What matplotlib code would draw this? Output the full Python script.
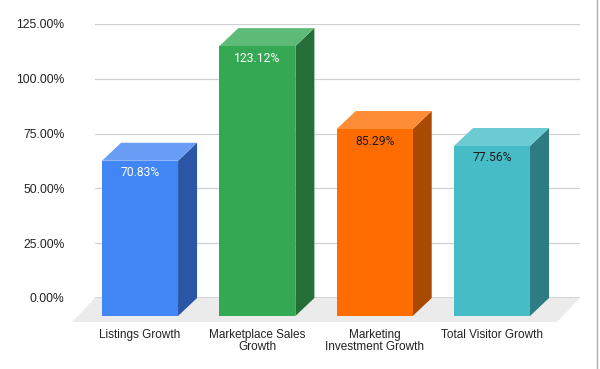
import matplotlib

matplotlib.use("Agg")
import matplotlib.pyplot as plt
from matplotlib.patches import Polygon
from matplotlib.lines import Line2D
from matplotlib.transforms import offset_copy

categories = ["Listings Growth", "Marketplace Sales\nGrowth",
              "Marketing\nInvestment Growth", "Total Visitor Growth"]
values = [70.83, 123.12, 85.29, 77.56]
value_labels = ["70.83%", "123.12%", "85.29%", "77.56%"]
yticks = [0, 25, 50, 75, 100, 125]
ytick_labels = ["0.00%", "25.00%", "50.00%", "75.00%", "100.00%", "125.00%"]

front_colors = ["#4285f4", "#34a853", "#ff6d01", "#46bdc6"]
side_colors = ["#2b56a6", "#246f38", "#a84a02", "#2e7c83"]
top_colors = ["#6a9df6", "#5eba77", "#ff8c36", "#6ccbd2"]
label_colors = ["white", "white", "#1a1a1a", "#1a1a1a"]

W, H = 600, 369
fig = plt.figure(figsize=(W / 100, H / 100), dpi=100)
ax = fig.add_axes([95 / W, (H - 298) / H, (580 - 95) / W, (298 - 24) / H])

xlim = (-0.546, 3.588)
ax.set_xlim(*xlim)
ax.set_ylim(0, 125)
for s in ax.spines.values():
    s.set_visible(False)

# pixel -> data conversion for the 3D offsets
px_x = (580 - 95) / (xlim[1] - xlim[0])
px_y = (298 - 24) / 125
ddx, ddy = -19 / px_x, -18 / px_y      # depth of bars
fdx, fdy = -23 / px_x, -24 / px_y      # depth of floor
w = 76 / px_x

ax.set_yticks(yticks)
ax.set_yticklabels(ytick_labels, fontsize=8.7, color="#222222",
                   family="Liberation Sans")
ax.tick_params(axis="y", length=0, pad=22)
ax.grid(axis="y", color="#d0d0d0", lw=0.9, zorder=0.5)
ax.set_axisbelow(True)

xs = list(range(len(values)))
ax.set_xticks([x + ddx for x in xs])
ax.set_xticklabels(categories, fontsize=8.5, color="#222222",
                   family="Liberation Sans", linespacing=1.0)
ax.tick_params(axis="x", length=0, pad=22)

# floor
floor = Polygon([(xlim[0], 0), (xlim[1], 0), (xlim[1] + fdx, fdy),
                 (xlim[0] + fdx, fdy)], closed=True, facecolor="#ebebeb",
                edgecolor="none", zorder=1, clip_on=False)
ax.add_patch(floor)
ax.axhline(0, color="#444444", lw=1.0, zorder=1.5)

# bars
front_tr = offset_copy(ax.transData, fig, x=-19, y=-18, units="dots")
ax.bar(xs, values, width=w, color=front_colors, transform=front_tr,
       zorder=3, clip_on=False, linewidth=0)
for i, v in enumerate(values):
    r = i + w / 2
    l = i - w / 2
    side = Polygon([(r + ddx, ddy), (r + ddx, v + ddy), (r, v), (r, 0)],
                   closed=True, facecolor=side_colors[i], edgecolor="none",
                   zorder=2.5, clip_on=False)
    top = Polygon([(l + ddx, v + ddy), (r + ddx, v + ddy), (r, v), (l, v)],
                  closed=True, facecolor=top_colors[i], edgecolor="none",
                  zorder=2.5, clip_on=False)
    ax.add_patch(side)
    ax.add_patch(top)

label_tr = offset_copy(ax.transData, fig, x=-19, y=-30, units="dots")
for i, v in enumerate(values):
    ax.text(i, v, value_labels[i], transform=label_tr, ha="center",
            va="center", fontsize=8.7, color=label_colors[i],
            family="Roboto", zorder=4)

# right frame line from the screenshot
fig.add_artist(Line2D([597 / W, 597 / W], [0, 1], color="#b0b0b0", lw=1.0))

fig.savefig("out.png", dpi=100, facecolor="white")
